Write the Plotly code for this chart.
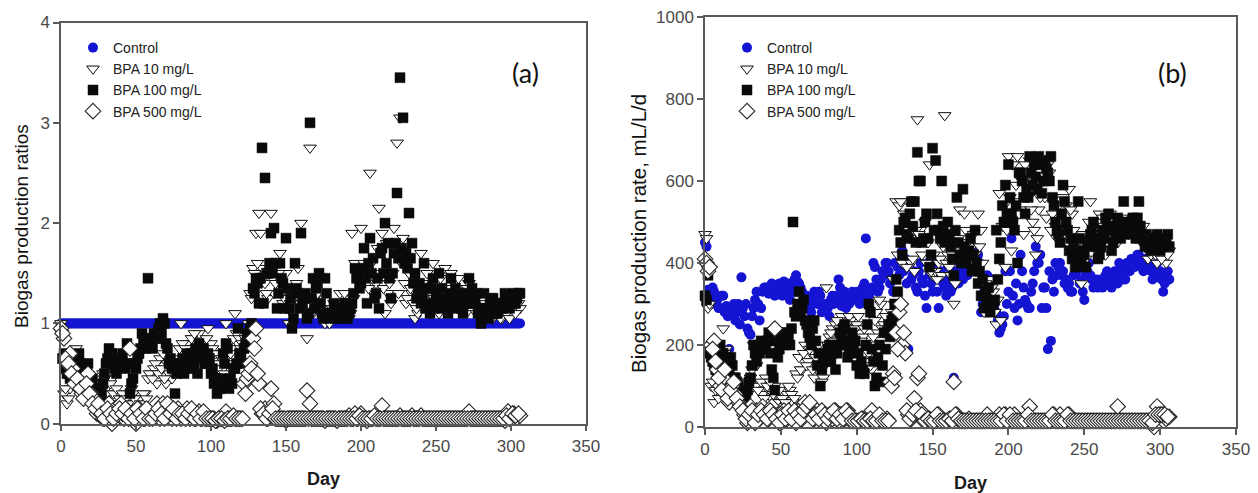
import plotly.graph_objects as go

# ---------------- data ----------------
DAYS_EVEN = list(range(0, 308, 2))   # days 0, 2, ..., 306
DAYS_ODD = list(range(1, 306, 2))    # days 1, 3, ..., 305

# Panel (b): biogas production rate, mL/L/d  (even days)
rate_control = [
    450, 335, 300, 330, 310, 290, 320, 295, 190, 280,
    260, 300, 365, 270, 240, 225, 290, 330, 260, 330,
    340, 325, 350, 320, 345, 335, 355, 330, 310, 345,
    370, 350, 330, 300, 310, 280, 330, 300, 320, 290,
    300, 270, 320, 310, 360, 295, 330, 300, 320, 310,
    330, 300, 340, 460, 320, 340, 390, 330, 360, 370,
    400, 350, 330, 400, 370, 430, 410, 190, 360, 380,
    330, 400, 350, 290, 370, 330, 400, 290, 360, 340,
    390, 330, 120, 370, 400, 360, 380, 390, 410, 420,
    420, 280, 330, 370, 320, 360, 280, 230, 250, 380,
    330, 460, 290, 260, 420, 340, 300, 290, 350, 440,
    400, 290, 340, 190, 210, 330, 370, 400, 380, 360,
    350, 330, 400, 390, 360, 310, 380, 370, 340, 360,
    350, 340, 370, 360, 340, 380, 350, 390, 360, 400,
    380, 410, 400, 420, 390, 410, 400, 380, 370, 400,
    380, 330, 370, 360,
]
rate_bpa10 = [
    470, 290, 100, 60, 95, 110, 240, 190, 120, 110,
    100, 80, 90, 100, 80, 120, 200, 150, 100, 80,
    120, 90, 70, 100, 60, 70, 50, 80, 90, 60,
    130, 170, 140, 200, 160, 180, 120, 150, 130, 120,
    340, 220, 240, 250, 230, 270, 200, 240, 260, 200,
    250, 230, 220, 200, 180, 140, 260, 230, 300, 250,
    270, 250, 360, 550, 540, 400, 480, 550, 400, 380,
    750, 480, 460, 400, 640, 370, 380, 400, 370, 760,
    420, 370, 300, 430, 530, 450, 480, 400, 440, 420,
    520, 480, 280, 330, 360, 330, 250, 570, 490, 390,
    660, 430, 550, 660, 530, 470, 610, 650, 500, 420,
    530, 650, 560, 640, 480, 560, 460, 470, 560, 540,
    580, 520, 440, 460, 350, 430, 470, 550, 480, 430,
    520, 510, 420, 480, 470, 500, 450, 490, 470, 500,
    490, 470, 460, 480, 450, 440, 410, 420, 450, 400,
    420, 440, 400, 430,
]
rate_bpa100 = [
    320, 370, 170, 150, 130, 200, 180, 160, 130, 150,
    120, 100, 80, 70, 90, 120, 200, 160, 180, 200,
    200, 230, 140, 90, 170, 220, 230, 210, 200, 500,
    270, 330, 290, 260, 230, 200, 260, 150, 100, 170,
    170, 200, 180, 140, 200, 220, 250, 170, 210, 190,
    150, 130, 140, 200, 300, 190, 100, 170, 110, 230,
    230, 220, 270, 360, 480, 420, 510, 460, 550, 550,
    670, 600, 460, 520, 390, 680, 650, 480, 600, 450,
    500, 440, 370, 560, 420, 580, 400, 430, 380, 480,
    350, 320, 290, 310, 280, 300, 480, 410, 540, 590,
    640, 520, 480, 400, 620, 560, 580, 660, 590, 610,
    660, 570, 650, 620, 660, 540, 480, 450, 590, 500,
    430, 410, 390, 550, 400, 420, 440, 470, 500, 440,
    420, 480, 510, 520, 430, 490, 510, 460, 550, 470,
    490, 510, 460, 550, 470, 440, 460, 430, 450, 470,
    430, 460, 450, 440,
]
rate_bpa500 = [
    410, 380, 200, 210, 140, 100, 120, 80, 60, 100,
    80, 60, 50, 30, 10, 50, 20, 40, 20, 50,
    30, 20, 50, 240, 30, 10, 40, 20, 30, 30,
    10, 40, 20, 60, 50, 30, 20, 40, 30, 20,
    10, 30, 20, 40, 15, 30, 20, 40, 15, 15,
    15, 15, 20, 15, 15, 40, 15, 15, 20, 15,
    20, 110, 130, 230, 280, 200, 180, 30, 20, 70,
    120, 40, 15, 15, 20, 15, 15, 30, 15, 15,
    15, 20, 110, 30, 15, 15, 15, 20, 15, 15,
    15, 15, 15, 30, 15, 15, 15, 30, 15, 30,
    15, 15, 30, 15, 15, 15, 15, 50, 15, 15,
    15, 15, 15, 15, 15, 30, 15, 30, 15, 15,
    30, 15, 15, 15, 15, 15, 15, 15, 15, 15,
    15, 15, 15, 15, 15, 15, 50, 15, 15, 15,
    15, 15, 15, 15, 15, 15, 15, 15, 0, 50,
    30, 30, 20, 25,
]

# Panel (b): odd days
rate_control_odd = [
    440, 320, 340, 300, 290, 320, 280, 270, 290, 300,
    280, 250, 290, 300, 230, 270, 310, 300, 290, 340,
    330, 340, 345, 335, 350, 320, 340, 350, 330, 360,
    355, 340, 300, 320, 290, 300, 310, 330, 280, 300,
    290, 310, 300, 320, 340, 310, 290, 300, 330, 320,
    310, 320, 350, 300, 330, 400, 360, 340, 380, 400,
    380, 360, 400, 390, 420, 380, 350, 400, 370, 340,
    380, 360, 320, 400, 350, 370, 330, 380, 350, 320,
    360, 340, 380, 350, 390, 380, 370, 400, 380, 430,
    400, 300, 350, 280, 340, 300, 260, 240, 270, 300,
    380, 320, 350, 300, 380, 310, 290, 330, 380, 400,
    420, 340, 290, 380, 360, 400, 390, 370, 350, 340,
    330, 370, 380, 350, 330, 370, 400, 360, 350, 340,
    360, 350, 380, 350, 360, 370, 400, 380, 360, 390,
    410, 390, 420, 400, 380, 410, 390, 360, 380, 410,
    360, 350, 380,
]
rate_bpa10_odd = [
    460, 300, 110, 90, 70, 130, 180, 150, 100, 90,
    110, 70, 60, 90, 110, 140, 100, 90, 110, 70,
    100, 110, 80, 60, 90, 70, 60, 100, 80, 70,
    120, 140, 180, 150, 190, 140, 170, 200, 110, 150,
    200, 230, 210, 260, 240, 220, 250, 270, 230, 240,
    270, 210, 240, 160, 150, 220, 280, 310, 240, 270,
    240, 280, 300, 420, 550, 520, 390, 460, 410, 480,
    470, 420, 500, 450, 380, 420, 360, 410, 440, 400,
    390, 420, 350, 460, 410, 520, 450, 420, 470, 390,
    440, 400, 350, 300, 340, 280, 310, 260, 540, 480,
    560, 640, 590, 520, 600, 640, 560, 530, 480, 460,
    560, 600, 510, 620, 520, 490, 540, 500, 480, 450,
    530, 480, 450, 420, 470, 410, 500, 460, 440, 470,
    500, 490, 450, 520, 480, 460, 490, 510, 480, 470,
    480, 500, 470, 460, 490, 450, 430, 460, 420, 440,
    410, 450, 420,
]
rate_bpa100_odd = [
    310, 180, 160, 140, 190, 170, 150, 140, 170, 120,
    110, 90, 60, 80, 110, 150, 180, 200, 210, 190,
    210, 180, 120, 210, 190, 230, 200, 220, 240, 280,
    300, 280, 310, 250, 220, 240, 210, 180, 140, 160,
    190, 160, 200, 180, 230, 240, 200, 180, 230, 210,
    180, 160, 130, 250, 280, 160, 120, 200, 150, 190,
    250, 260, 300, 330, 450, 500, 470, 520, 490, 450,
    600, 450, 500, 460, 420, 480, 520, 460, 490, 470,
    460, 410, 480, 450, 400, 440, 420, 460, 420, 400,
    380, 360, 330, 340, 300, 310, 360, 450, 500, 520,
    560, 500, 540, 620, 600, 520, 560, 620, 640, 580,
    640, 600, 630, 600, 560, 500, 470, 520, 550, 480,
    460, 440, 420, 460, 430, 390, 450, 480, 460, 410,
    440, 460, 490, 480, 450, 470, 500, 480, 500, 490,
    500, 480, 510, 490, 460, 470, 450, 440, 460, 450,
    440, 460, 470,
]
rate_bpa500_odd = [
    400, 390, 190, 160, 120, 90, 140, 70, 90, 110,
    70, 50, 40, 20, 30, 40, 10, 30, 40, 30,
    20, 40, 30, 20, 10, 30, 20, 40, 20, 40,
    30, 20, 40, 50, 60, 20, 30, 20, 40, 30,
    20, 30, 40, 20, 30, 20, 40, 30, 15, 15,
    15, 20, 15, 15, 20, 15, 15, 30, 15, 15,
    15, 100, 120, 190, 300, 230, 40, 20, 30, 40,
    130, 30, 15, 20, 15, 15, 30, 15, 15, 15,
    20, 15, 30, 20, 15, 15, 15, 15, 15, 15,
    15, 15, 15, 15, 15, 15, 15, 15, 30, 15,
    30, 15, 15, 15, 15, 15, 30, 15, 15, 15,
    15, 15, 15, 15, 30, 15, 15, 15, 15, 30,
    15, 15, 15, 15, 15, 15, 15, 15, 15, 15,
    15, 15, 15, 15, 15, 15, 15, 15, 15, 15,
    15, 15, 15, 15, 15, 15, 15, 10, 30, 30,
    30, 30, 25,
]

# Panel (a): biogas production ratios (BPA reactor / control), even days
ratio_bpa10 = [
    1.0, 0.3, 0.2, 0.35, 0.6, 0.75, 0.6, 0.5, 0.35, 0.45,
    0.3, 0.2, 0.25, 0.4, 0.5, 0.35, 0.3, 0.45, 0.25, 0.2,
    0.25, 0.2, 0.3, 0.6, 0.3, 0.2, 0.25, 0.15, 0.3, 0.45,
    0.5, 0.55, 0.4, 0.65, 0.7, 0.4, 0.5, 0.45, 0.55, 0.6,
    1.0, 0.7, 0.8, 0.75, 0.85, 0.8, 0.9, 0.7, 0.6, 0.95,
    0.8, 0.65, 0.6, 0.7, 0.55, 1.0, 0.45, 0.75, 1.1, 0.8,
    0.75, 0.8, 0.9, 1.3, 1.55, 1.9, 2.1, 1.55, 1.4, 1.25,
    2.1, 1.3, 1.6, 1.7, 1.2, 1.5, 1.0, 1.1, 1.2, 1.55,
    2.0, 1.2, 0.85, 2.75, 1.1, 1.4, 1.2, 1.1, 1.0, 1.05,
    1.1, 1.2, 1.15, 1.3, 1.1, 1.2, 1.05, 1.9, 1.6, 1.5,
    1.95, 1.6, 1.4, 2.5, 1.3, 1.4, 2.15, 1.9, 1.1, 1.3,
    1.2, 1.95, 2.8, 3.05, 1.85, 1.2, 1.5, 1.3, 1.05, 1.1,
    1.7, 1.25, 1.5, 1.1, 1.6, 1.2, 1.1, 1.3, 1.55, 1.2,
    1.5, 1.4, 1.35, 1.2, 1.3, 1.1, 1.4, 1.2, 1.25, 1.15,
    1.2, 1.1, 1.05, 1.1, 1.05, 1.15, 1.1, 1.05, 1.1, 1.15,
    1.1, 1.2, 1.25, 1.15,
]
ratio_bpa100 = [
    0.95, 0.7, 0.5, 0.45, 0.55, 0.6, 0.7, 0.55, 0.5, 0.6,
    0.4, 0.35, 0.3, 0.25, 0.4, 0.6, 0.75, 0.7, 0.55, 0.65,
    0.65, 0.6, 0.8, 0.3, 0.45, 0.55, 0.7, 0.9, 0.75, 1.45,
    0.8, 0.9, 0.85, 1.0, 1.05, 0.8, 0.6, 0.55, 0.3, 0.6,
    0.6, 0.5, 0.7, 0.65, 0.55, 0.75, 0.8, 0.65, 0.6, 0.7,
    0.5, 0.4, 0.3, 0.35, 0.7, 0.8, 0.35, 0.4, 0.55, 0.95,
    0.7, 0.75, 0.9, 0.95, 1.35, 1.45, 1.2, 2.75, 2.45, 1.5,
    1.9, 1.95, 1.15, 1.6, 1.4, 1.85, 1.15, 0.95, 1.6, 1.3,
    1.9, 1.25, 1.05, 3.0, 1.45, 1.35, 1.5, 1.1, 1.45, 1.1,
    1.05, 1.2, 1.1, 1.15, 1.05, 1.2, 1.1, 1.2, 1.55, 1.5,
    1.4, 1.75, 1.2, 1.85, 1.65, 1.3, 1.15, 1.75, 2.0, 1.8,
    1.25, 1.7, 2.3, 3.45, 3.05, 1.7, 2.1, 1.8, 1.5, 1.3,
    1.2, 1.6, 1.35, 1.1, 1.45, 1.25, 1.5, 1.35, 1.2, 1.1,
    1.45, 1.2, 1.15, 1.3, 1.1, 1.2, 1.45, 1.35, 1.2, 1.1,
    1.0, 1.3, 1.15, 1.2, 1.25, 1.1, 1.2, 1.15, 1.3, 1.2,
    1.2, 1.3, 1.25, 1.3,
]
ratio_bpa500 = [
    0.95, 0.85, 0.6, 0.7, 0.55, 0.45, 0.4, 0.3, 0.35, 0.5,
    0.3, 0.25, 0.1, 0.15, 0.05, 0.1, 0.2, 0.0, 0.15, 0.1,
    0.2, 0.05, 0.1, 0.75, 0.05, 0.0, 0.15, 0.1, 0.05, 0.1,
    0.1, 0.15, 0.2, 0.05, 0.2, 0.15, 0.1, 0.05, 0.1, 0.15,
    0.05, 0.1, 0.15, 0.05, 0.1, 0.05, 0.12, 0.05, 0.05, 0.05,
    0.05, 0.05, 0.03, 0.05, 0.05, 0.12, 0.05, 0.05, 0.05, 0.05,
    0.05, 0.4, 0.45, 0.6, 0.85, 0.95, 0.4, 0.1, 0.15, 0.05,
    0.35, 0.2, 0.05, 0.05, 0.05, 0.03, 0.05, 0.05, 0.05, 0.05,
    0.05, 0.05, 0.33, 0.2, 0.05, 0.05, 0.05, 0.05, 0.03, 0.05,
    0.05, 0.05, 0.03, 0.05, 0.05, 0.05, 0.08, 0.05, 0.1, 0.05,
    0.1, 0.05, 0.03, 0.05, 0.05, 0.05, 0.05, 0.18, 0.05, 0.05,
    0.05, 0.05, 0.05, 0.08, 0.05, 0.05, 0.05, 0.08, 0.05, 0.05,
    0.08, 0.05, 0.05, 0.05, 0.05, 0.05, 0.05, 0.05, 0.05, 0.05,
    0.05, 0.05, 0.05, 0.05, 0.05, 0.05, 0.12, 0.05, 0.05, 0.05,
    0.05, 0.05, 0.05, 0.05, 0.05, 0.05, 0.05, 0.05, 0.03, 0.12,
    0.08, 0.1, 0.06, 0.08,
]

# Panel (a): odd days
ratio_bpa10_odd = [
    0.9, 0.35, 0.25, 0.45, 0.5, 0.7, 0.55, 0.4, 0.3, 0.35,
    0.25, 0.3, 0.2, 0.35, 0.45, 0.5, 0.4, 0.3, 0.35, 0.25,
    0.3, 0.25, 0.2, 0.35, 0.25, 0.15, 0.2, 0.3, 0.25, 0.5,
    0.45, 0.6, 0.5, 0.55, 0.45, 0.6, 0.55, 0.5, 0.65, 0.75,
    0.8, 0.75, 0.7, 0.85, 0.9, 0.75, 0.8, 0.65, 0.85, 0.7,
    0.75, 0.7, 0.55, 0.65, 0.5, 0.6, 0.7, 0.85, 0.9, 0.85,
    0.8, 0.85, 1.0, 1.25, 1.5, 1.6, 1.9, 1.45, 1.3, 1.5,
    1.45, 1.4, 1.5, 1.3, 1.25, 1.15, 1.2, 1.3, 1.4, 1.25,
    1.3, 1.15, 1.2, 1.1, 1.25, 1.3, 1.15, 1.05, 1.1, 1.0,
    1.15, 1.05, 1.1, 1.2, 1.3, 1.15, 1.1, 1.25, 1.55, 1.4,
    1.5, 1.55, 1.35, 1.6, 1.45, 1.75, 1.5, 1.35, 1.8, 1.4,
    1.5, 1.7, 1.3, 1.6, 1.4, 1.25, 1.35, 1.2, 1.15, 1.25,
    1.4, 1.3, 1.2, 1.35, 1.25, 1.15, 1.45, 1.2, 1.35, 1.25,
    1.3, 1.2, 1.45, 1.25, 1.15, 1.35, 1.2, 1.3, 1.1, 1.2,
    1.15, 1.2, 1.1, 1.05, 1.15, 1.1, 1.05, 1.2, 1.1, 1.05,
    1.15, 1.1, 1.2,
]
ratio_bpa100_odd = [
    0.65, 0.55, 0.5, 0.6, 0.5, 0.65, 0.6, 0.45, 0.55, 0.45,
    0.45, 0.3, 0.35, 0.3, 0.5, 0.65, 0.7, 0.6, 0.5, 0.6,
    0.7, 0.55, 0.6, 0.4, 0.6, 0.65, 0.75, 0.8, 0.85, 0.85,
    0.75, 0.85, 0.95, 0.9, 1.0, 0.75, 0.65, 0.6, 0.5, 0.55,
    0.65, 0.55, 0.6, 0.7, 0.6, 0.5, 0.7, 0.75, 0.6, 0.65,
    0.55, 0.45, 0.35, 0.45, 0.6, 0.75, 0.45, 0.55, 0.6, 0.7,
    0.6, 0.8, 0.85, 1.0, 1.3, 1.4, 1.45, 1.2, 1.5, 1.6,
    1.5, 1.6, 1.3, 1.45, 1.15, 1.35, 1.25, 1.05, 1.35, 1.15,
    1.2, 1.3, 1.1, 1.25, 1.15, 1.4, 1.2, 1.05, 1.3, 1.1,
    1.1, 1.05, 1.15, 1.1, 1.2, 1.05, 1.15, 1.3, 1.45, 1.35,
    1.55, 1.45, 1.6, 1.5, 1.25, 1.45, 1.7, 1.5, 1.6, 1.45,
    1.5, 1.8, 1.65, 1.75, 1.6, 1.55, 1.65, 1.4, 1.25, 1.4,
    1.3, 1.15, 1.2, 1.35, 1.15, 1.3, 1.2, 1.15, 1.25, 1.3,
    1.2, 1.35, 1.25, 1.15, 1.25, 1.3, 1.2, 1.25, 1.3, 1.15,
    1.1, 1.15, 1.05, 1.25, 1.2, 1.1, 1.15, 1.2, 1.25, 1.15,
    1.25, 1.2, 1.3,
]
ratio_bpa500_odd = [
    0.9, 0.65, 0.6, 0.5, 0.4, 0.45, 0.35, 0.25, 0.4, 0.3,
    0.2, 0.15, 0.2, 0.1, 0.05, 0.15, 0.1, 0.05, 0.1, 0.15,
    0.1, 0.15, 0.05, 0.1, 0.05, 0.15, 0.1, 0.05, 0.15, 0.05,
    0.05, 0.1, 0.15, 0.1, 0.05, 0.2, 0.1, 0.15, 0.05, 0.1,
    0.1, 0.05, 0.1, 0.15, 0.05, 0.1, 0.05, 0.12, 0.05, 0.05,
    0.05, 0.03, 0.05, 0.05, 0.03, 0.05, 0.05, 0.08, 0.05, 0.05,
    0.05, 0.3, 0.5, 0.55, 0.75, 0.5, 0.15, 0.1, 0.05, 0.1,
    0.15, 0.05, 0.05, 0.05, 0.05, 0.05, 0.05, 0.05, 0.05, 0.05,
    0.05, 0.05, 0.05, 0.05, 0.05, 0.05, 0.05, 0.05, 0.05, 0.05,
    0.05, 0.05, 0.05, 0.05, 0.05, 0.05, 0.05, 0.05, 0.05, 0.08,
    0.05, 0.05, 0.05, 0.05, 0.08, 0.05, 0.05, 0.05, 0.05, 0.05,
    0.05, 0.05, 0.05, 0.05, 0.05, 0.05, 0.05, 0.05, 0.05, 0.05,
    0.05, 0.05, 0.05, 0.05, 0.05, 0.05, 0.05, 0.05, 0.05, 0.05,
    0.05, 0.05, 0.05, 0.05, 0.05, 0.05, 0.05, 0.05, 0.05, 0.05,
    0.05, 0.05, 0.05, 0.05, 0.05, 0.05, 0.05, 0.05, 0.08, 0.05,
    0.1, 0.08, 0.1,
]
# the control reactor is the reference of every ratio, so its ratio is 1 each day
ratio_control = [1.0] * len(DAYS_EVEN)
ratio_control_odd = [1.0] * len(DAYS_ODD)

SERIES_NAMES = ["Control", "BPA 10 mg/L", "BPA 100 mg/L", "BPA 500 mg/L"]
X_TICKS = [0, 50, 100, 150, 200, 250, 300, 350]
Y_TICKS_A = [0, 1, 2, 3, 4]
Y_TICKS_B = [0, 200, 400, 600, 800, 1000]

# ---------------- styling ----------------
W, H = 1258, 493
TICK_FONT = dict(family="Liberation Sans Narrow, Arial Narrow, Liberation Sans, Arial, sans-serif",
                 size=17, color="#4a4a4a")
LEG_FONT = dict(family="Liberation Sans, Arial, sans-serif", size=14, color="#222222")
AXIS_COLOR = "#5a5a5a"

marker_styles = [
    dict(symbol="circle", size=10, color="#1414d2", line=dict(width=0)),
    dict(symbol="triangle-down", size=11, color="white", line=dict(color="#111111", width=1)),
    dict(symbol="square", size=10, color="#0a0a0a", line=dict(color="#0a0a0a", width=0.5)),
    dict(symbol="diamond", size=12, color="white", line=dict(color="#262626", width=1.1)),
]

panel_a = [
    (ratio_control, ratio_control_odd),
    (ratio_bpa10, ratio_bpa10_odd),
    (ratio_bpa100, ratio_bpa100_odd),
    (ratio_bpa500, ratio_bpa500_odd),
]
panel_b = [
    (rate_control, rate_control_odd),
    (rate_bpa10, rate_bpa10_odd),
    (rate_bpa100, rate_bpa100_odd),
    (rate_bpa500, rate_bpa500_odd),
]

fig = go.Figure()
for name, (ye, yo), ms in zip(SERIES_NAMES, panel_a, marker_styles):
    fig.add_trace(go.Scatter(x=DAYS_EVEN + DAYS_ODD, y=ye + yo, mode="markers", name=name,
                             marker=ms, xaxis="x", yaxis="y", legend="legend", cliponaxis=False))
for name, (ye, yo), ms in zip(SERIES_NAMES, panel_b, marker_styles):
    fig.add_trace(go.Scatter(x=DAYS_EVEN + DAYS_ODD, y=ye + yo, mode="markers", name=name,
                             marker=ms, xaxis="x2", yaxis="y2", legend="legend2", cliponaxis=False))


def px_x(p):
    return p / W


def px_y(p):
    return 1 - p / H


axis_common = dict(showline=True, linecolor=AXIS_COLOR, linewidth=1.5, mirror=True,
                   ticks="outside", ticklen=6, tickwidth=1.5, tickcolor=AXIS_COLOR,
                   showgrid=False, zeroline=False, tickfont=TICK_FONT, automargin=False)

fig.update_layout(
    width=W, height=H,
    margin=dict(l=0, r=0, t=0, b=0),
    paper_bgcolor="white", plot_bgcolor="white",
    xaxis=dict(domain=[px_x(61), px_x(586)], range=[0, 350], tickvals=X_TICKS,
               anchor="y", **axis_common),
    yaxis=dict(domain=[px_y(423.7), px_y(22.5)], range=[0, 4], tickvals=Y_TICKS_A,
               anchor="x", **axis_common),
    xaxis2=dict(domain=[px_x(705), px_x(1236)], range=[0, 350], tickvals=X_TICKS,
                anchor="y2", **axis_common),
    yaxis2=dict(domain=[px_y(427), px_y(17)], range=[0, 1000], tickvals=Y_TICKS_B,
                anchor="x2", **axis_common),
    legend=dict(x=px_x(73), y=px_y(32), xanchor="left", yanchor="top",
                bgcolor="rgba(0,0,0,0)", font=LEG_FONT, tracegroupgap=0),
    legend2=dict(x=px_x(727), y=px_y(32), xanchor="left", yanchor="top",
                 bgcolor="rgba(0,0,0,0)", font=LEG_FONT, tracegroupgap=0),
    showlegend=True,
)

TITLE_A_FONT = dict(family="Liberation Sans, Arial, sans-serif", size=19, color="#111111")
TITLE_B_FONT = dict(family="Liberation Sans, Arial, sans-serif", size=20.5, color="#111111")
DAY_FONT = dict(family="Liberation Sans, Arial, sans-serif", size=18, color="#1a1a1a")
LABEL_FONT = dict(family="Lato, Open Sans, sans-serif", size=27, color="#111111")

annotations = [
    dict(text="<b>Day</b>", x=px_x(323.5), y=px_y(479), font=DAY_FONT),
    dict(text="<b>Day</b>", x=px_x(970), y=px_y(483), font=DAY_FONT),
    dict(text="Biogas production ratios", x=px_x(21), y=px_y(226), textangle=-90, font=TITLE_A_FONT),
    dict(text="Biogas production rate, mL/L/d", x=px_x(638), y=px_y(234), textangle=-90,
         font=TITLE_B_FONT),
    dict(text="(a)", x=px_x(525), y=px_y(72), font=LABEL_FONT),
    dict(text="(b)", x=px_x(1172), y=px_y(72), font=LABEL_FONT),
]
for a in annotations:
    a.update(xref="paper", yref="paper", showarrow=False, xanchor="center", yanchor="middle")
fig.update_layout(annotations=annotations)

# the page's default 8px body margin would shift the whole figure; remove it
fig.write_html("out.html", config={"displayModeBar": False},
               post_script="document.body.style.margin='0px';")
